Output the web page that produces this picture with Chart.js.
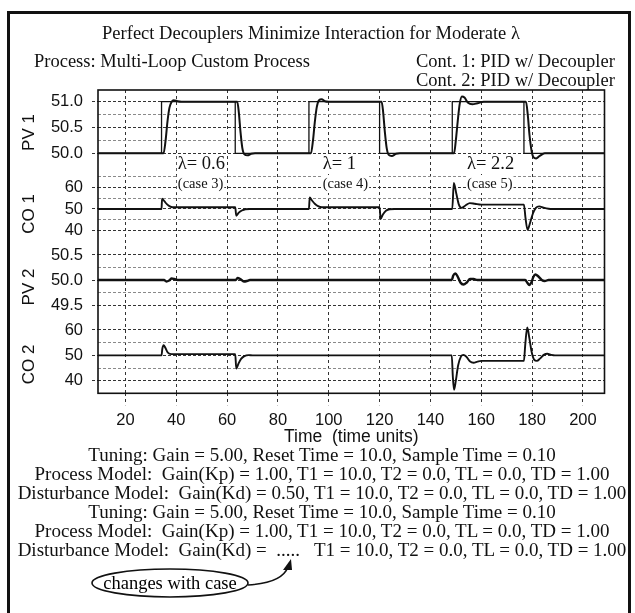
<!DOCTYPE html>
<html>
<head>
<meta charset="utf-8">
<script src="https://cdn.jsdelivr.net/npm/chart.js@4.4.1/dist/chart.umd.min.js"></script>
<style>
  html, body { margin: 0; padding: 0; background: #fff; }
  body { width: 635px; height: 613px; position: relative; overflow: hidden;
         font-family: "Liberation Serif", "Times New Roman", serif; color: #111; }
  #frame { position: absolute; left: 7px; top: 11px; width: 624px; height: 640px;
           border: 3px solid #111; box-sizing: border-box; }
  #wrap { position: absolute; left: 0; top: 0; width: 635px; height: 450px; }
  .t { position: absolute; white-space: pre; font-size: 18.5px; line-height: 20px; }
  .c { width: 660px; text-align: center; }
  .f { font-size: 19px; left: -8px; }
  #note { position: absolute; left: 0; top: 0; }
</style>
</head>
<body>
<div id="frame"></div>
<div id="wrap"><canvas id="chart" width="635" height="450"></canvas></div>

<div class="t c" style="left:-19px; top:23px;">Perfect Decouplers Minimize Interaction for Moderate λ</div>
<div class="t" style="left:34px; top:51px;">Process: Multi-Loop Custom Process</div>
<div class="t" style="left:416px; top:51px;">Cont. 1: PID w/ Decoupler</div>
<div class="t" style="left:416px; top:70px;">Cont. 2: PID w/ Decoupler</div>

<div class="t c f" style="top:445px;">Tuning: Gain = 5.00, Reset Time = 10.0, Sample Time = 0.10</div>
<div class="t c f" style="top:464px;">Process Model:  Gain(Kp) = 1.00, T1 = 10.0, T2 = 0.0, TL = 0.0, TD = 1.00</div>
<div class="t c f" style="top:483px;">Disturbance Model:  Gain(Kd) = 0.50, T1 = 10.0, T2 = 0.0, TL = 0.0, TD = 1.00</div>
<div class="t c f" style="top:502px;">Tuning: Gain = 5.00, Reset Time = 10.0, Sample Time = 0.10</div>
<div class="t c f" style="top:521px;">Process Model:  Gain(Kp) = 1.00, T1 = 10.0, T2 = 0.0, TL = 0.0, TD = 1.00</div>
<div class="t c f" style="top:540px;">Disturbance Model:  Gain(Kd) =  .....   T1 = 10.0, T2 = 0.0, TL = 0.0, TD = 1.00</div>

<svg id="note" width="635" height="613">
  <ellipse cx="170" cy="583" rx="78" ry="14" fill="none" stroke="#111" stroke-width="1.6"/>
  <text x="170" y="589" text-anchor="middle" font-family="Liberation Serif, serif" font-size="18.5">changes with case</text>
  <path d="M248 585 Q282 583 288 567" fill="none" stroke="#111" stroke-width="1.6"/>
  <path d="M291 559 L283 570 L292 570 Z" fill="#111"/>
</svg>

<script>
// time (time units) and values
const spT  = [9.2, 34.2, 34.2, 63.2, 63.2, 92.2, 92.2, 120, 120, 148.6, 148.6, 176.8, 176.8, 208.5];
const spV  = [50, 50, 51, 51, 50, 50, 51, 51, 50, 50, 51, 51, 50, 50];

const pv1T = [9.2, 35.0, 35.8, 36.5, 37.3, 38.2, 39.0, 40.5, 42, 64.0, 64.6, 65.3, 66.0, 66.8, 68, 69.5, 71,
              93.0, 93.8, 94.5, 95.3, 96.2, 97.2, 98.5, 100, 120.8, 121.4, 122.1, 122.8, 123.6, 124.8, 126.5, 128,
              149.3, 150.0, 150.7, 151.5, 152.4, 153.4, 154.8, 156.5, 158.5, 161,
              177.6, 178.3, 179.0, 179.8, 180.6, 181.6, 183, 185, 208.5];
const pv1V = [50, 50, 50.25, 50.6, 50.88, 51.0, 51.03, 51.01, 51.0, 51.0, 50.8, 50.4, 50.1, 49.98, 49.96, 49.99, 50,
              50, 50.25, 50.6, 50.9, 51.03, 51.05, 51.01, 51.0, 51.0, 50.8, 50.4, 50.1, 49.97, 49.95, 49.99, 50,
              50, 50.25, 50.6, 50.95, 51.1, 51.08, 50.98, 50.95, 50.97, 51.0,
              51.0, 50.75, 50.35, 50.05, 49.92, 49.9, 49.95, 50, 50];

const co1T = [9.2, 34.2, 34.4, 35.3, 36.3, 37.3, 38.6, 63.2, 63.6, 64.6, 65.8, 67.2, 69,
              92.2, 92.5, 93.4, 94.6, 95.8, 97.3, 120, 120.4, 121.3, 122.5, 124, 126,
              148.6, 149.2, 150.2, 151.2, 152.3, 153.8, 155.5, 157.5, 160,
              176.8, 177.4, 178.2, 179.2, 180.3, 181.5, 182.8, 184.5, 186.5, 188, 208.5];
const co1V = [50, 50, 54.7, 53.6, 52.2, 51.3, 50.8, 50.8, 46.9, 48.3, 49.3, 49.9, 50,
              50, 55.3, 53.9, 52.3, 51.3, 50.8, 50.8, 45.4, 47.5, 49.2, 49.9, 50,
              50, 62, 57, 52, 50.5, 51.6, 52.7, 52.4, 52,
              52, 46, 40.4, 43.5, 47.8, 50.5, 51.2, 50.6, 50.1, 50, 50];

const pv2T = [9.2, 35.2, 36.1, 37.2, 38.2, 39.2, 40.5, 63.4, 64.1, 65.2, 66.6, 67.8, 69,
              148.4, 149.0, 149.8, 150.8, 151.8, 153, 154.3, 155.6, 157, 158.5,
              177.3, 178.2, 178.9, 179.8, 180.5, 181.3, 182.5, 183.8, 185, 186.5, 208.5];
const pv2V = [50, 50, 49.97, 49.99, 50.03, 50.02, 50, 50, 50.04, 50.02, 49.97, 49.98, 50,
              50, 50.09, 50.13, 50.06, 49.95, 49.91, 49.95, 50.02, 50.02, 50,
              50, 49.94, 49.9, 49.96, 50.06, 50.11, 50.07, 50.0, 49.98, 50, 50];

const co2T = [9.2, 34.2, 34.5, 35.0, 35.7, 36.5, 37.5, 39, 63.2, 63.6, 64.5, 65.5, 66.8, 68.5, 70,
              148.4, 148.8, 149.3, 150.0, 150.9, 152, 153, 154.2, 155.5, 157, 158.5, 160,
              176.8, 177.3, 178.1, 178.9, 179.8, 180.8, 181.9, 183.2, 184.6, 186, 187.5, 189, 208.5];
const co2V = [50, 50, 52.5, 54, 53, 51.3, 50.6, 50.5, 50.5, 44.8, 46.8, 48.6, 49.7, 50.1, 50,
              50, 42, 36.4, 40, 46, 49.5, 50.2, 49.4, 47.7, 47.1, 47.5, 47.8,
              47.8, 54, 61, 57, 51.5, 48.3, 47.8, 48.8, 50.2, 50.6, 50.2, 50, 50];

// ticks: every grid line, and the ones that carry a label
const xTicks    = [20, 40, 60, 80, 100, 120, 140, 160, 180, 200];
const pv1Ticks  = [50, 50.25, 50.5, 50.75, 51];
const pv1Labels = [50, 50.5, 51];
const co1Ticks  = [40, 45, 50, 55, 60, 65];
const co1Labels = [40, 50, 60];
const pv2Ticks  = [49.5, 49.75, 50, 50.25, 50.5];
const pv2Labels = [49.5, 50, 50.5];
const co2Ticks  = [40, 45, 50, 55, 60];
const co2Labels = [40, 50, 60];

const panelNames = ['PV 1', 'CO 1', 'PV 2', 'CO 2'];
const panelIds   = ['pv1', 'co1', 'pv2', 'co2'];
const panelMid   = [50.5, 50, 50, 50];

const caseT      = [40.6, 97.6, 154.4];
const caseLambda = ['λ= 0.6', 'λ= 1', 'λ= 2.2'];
const caseName   = ['(case 3)', '(case 4)', '(case 5)'];

const pts = (t, v) => t.map((x, i) => ({ x: x, y: v[i] }));
const sans = '"Liberation Sans", Arial, sans-serif';
const serif = '"Liberation Serif", "Times New Roman", serif';

function panel(min, max, ticks, labels, digits, weight) {
  return {
    type: 'linear', position: 'left', stack: 'panels', stackWeight: weight,
    min: min, max: max,
    afterBuildTicks: s => { s.ticks = ticks.map(v => ({ value: v })); },
    afterFit: s => { s.width = 98; },
    ticks: {
      autoSkip: false, padding: 9, color: '#111',
      font: { family: sans, size: 16.5 },
      callback: v => labels.includes(v) ? v.toFixed(digits) : ''
    },
    grid: {
      lineWidth: 1, tickLength: 6, tickBorderDash: [3, 2],
      color: c => (c.tick && labels.includes(c.tick.value)) ? '#333' : '#8a8a8a',
      tickColor: c => (c.tick && labels.includes(c.tick.value)) ? '#333' : 'rgba(0,0,0,0)'
    },
    border: { display: false, dash: [3, 2] }
  };
}

// writes a label on a white patch so the grid does not run through it
function label(ctx, text, x, y, font) {
  ctx.font = font;
  const w = ctx.measureText(text).width;
  ctx.fillStyle = '#fff';
  ctx.fillRect(x - 1, y - 9, w + 2, 18);
  ctx.fillStyle = '#111';
  ctx.fillText(text, x, y);
}

const decor = {
  id: 'decor',
  afterDraw(chart) {
    const { ctx, chartArea: a, scales } = chart;
    ctx.save();
    ctx.textAlign = 'left';
    ctx.textBaseline = 'middle';
    caseT.forEach((t, i) => {
      const x = scales.x.getPixelForValue(t);
      label(ctx, caseLambda[i], x, a.top + 74, '18.5px ' + serif);
      label(ctx, caseName[i], x, a.top + 94, '14.5px ' + serif);
    });

    ctx.strokeStyle = '#111';
    ctx.lineWidth = 1.6;
    ctx.strokeRect(a.left, a.top, a.right - a.left, a.bottom - a.top);

    ctx.fillStyle = '#111';
    ctx.textAlign = 'center';
    ctx.font = '17px ' + sans;
    const shift = [5, 5, 7, 9];
    panelNames.forEach((name, i) => {
      const y = scales[panelIds[i]].getPixelForValue(panelMid[i]) + shift[i];
      ctx.save();
      ctx.translate(29, y);
      ctx.rotate(-Math.PI / 2);
      ctx.fillText(name, 0, 0);
      ctx.restore();
    });
    ctx.restore();
  }
};

const thick = { borderColor: '#111', pointRadius: 0, fill: false, cubicInterpolationMode: 'monotone' };

new Chart(document.getElementById('chart'), {
  type: 'line',
  data: {
    datasets: [
      { ...thick, data: pts(spT, spV), yAxisID: 'pv1', borderWidth: 1.3, cubicInterpolationMode: 'default', tension: 0 },
      { ...thick, data: pts(pv1T, pv1V), yAxisID: 'pv1', borderWidth: 2 },
      { ...thick, data: pts(co1T, co1V), yAxisID: 'co1', borderWidth: 1.9 },
      { ...thick, data: pts(pv2T, pv2V), yAxisID: 'pv2', borderWidth: 2.4 },
      { ...thick, data: pts(co2T, co2V), yAxisID: 'co2', borderWidth: 1.9 }
    ]
  },
  options: {
    responsive: false,
    animation: false,
    devicePixelRatio: 1,
    layout: { padding: { top: 90, right: 30.5, left: 0, bottom: 0 } },
    plugins: { legend: { display: false }, tooltip: { enabled: false } },
    scales: {
      x: {
        type: 'linear', min: 9.2, max: 208.5,
        afterBuildTicks: s => { s.ticks = xTicks.map(v => ({ value: v })); },
        afterFit: s => { s.height = 56.7; },
        ticks: { autoSkip: false, maxRotation: 0, padding: 5, color: '#111',
                 font: { family: sans, size: 16.5 }, callback: v => String(v) },
        grid: { color: '#333', lineWidth: 1, tickLength: 12, tickBorderDash: [3, 3] },
        border: { display: false, dash: [3, 3] },
        title: { display: true, text: 'Time  (time units)', color: '#111',
                 font: { family: sans, size: 17.5 }, padding: { top: 0, bottom: 2 } }
      },
      co2: panel(35.03, 64.73, co2Ticks, co2Labels, 0, 75.3),
      pv2: panel(49.24, 50.8, pv2Ticks, pv2Labels, 1, 78),
      co1: panel(35.7, 69.8, co1Ticks, co1Labels, 0, 74),
      pv1: panel(49.754, 51.227, pv1Ticks, pv1Labels, 1, 76)
    }
  },
  plugins: [decor]
});
</script>
</body>
</html>
